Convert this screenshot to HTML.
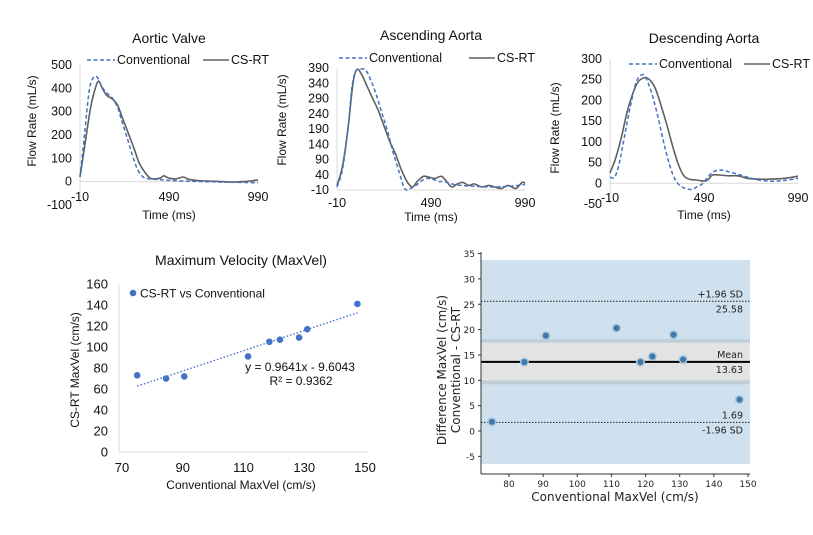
<!DOCTYPE html>
<html><head><meta charset="utf-8"><style>
html,body{margin:0;padding:0;background:#fff}
svg{display:block;font-family:"Liberation Sans",sans-serif}
</style></head><body>
<svg id="s" width="813" height="535" viewBox="0 0 813 535"></svg>
<script>
// ---- Aortic Valve ----
const avConvT=[-10,15,40,60,85,110,140,170,200,225,250,270,290,315,345,380,450,500,600,700,800,900,990];
const avConvV=[20,200,380,440,450,410,380,360,320,260,200,150,100,50,20,12,8,5,2,0,-2,-3,-5];
const avCsT=[-10,20,50,80,97,115,140,170,200,230,260,290,320,350,380,400,440,460,490,530,570,600,650,700,800,850,900,950,990];
const avCsV=[20,170,320,410,430,400,370,355,330,270,210,150,85,45,18,12,15,25,15,12,20,10,5,3,0,-2,0,3,8];
const avYTicks=[500,400,300,200,100,0,-100];
const xTicks=[-10,490,990];
// ---- Ascending Aorta ----
const aaConvT=[-10,20,50,70,90,110,140,170,200,230,260,290,320,345,360,380,410,440,470,500,530,560,600,650,700,800,900,990];
const aaConvV=[0,60,200,330,380,385,385,350,300,240,180,110,50,0,-10,-5,5,20,28,25,18,18,10,5,3,0,2,8];
const aaCsT=[-10,20,50,75,96,120,150,180,210,240,270,300,330,360,390,420,450,480,510,545,570,600,630,660,690,720,760,800,860,900,940,975,990];
const aaCsV=[5,70,200,340,385,370,330,290,250,200,150,110,60,20,0,20,35,32,28,35,20,0,10,15,5,10,0,5,-5,5,-5,15,12];
const aaYTicks=[390,340,290,240,190,140,90,40,-10];
// ---- Descending Aorta ----
const daConvT=[-10,15,40,70,100,130,160,180,210,240,270,300,330,360,390,425,455,485,510,540,580,620,670,720,780,850,920,990];
const daConvV=[15,15,50,120,190,245,262,255,220,170,110,55,15,-5,-12,-15,-8,0,15,28,32,28,22,15,8,5,7,12];
const daCsT=[-10,20,50,80,110,140,175,200,230,260,290,320,350,380,410,450,490,510,535,570,620,670,720,780,850,920,990];
const daCsV=[25,60,110,170,215,245,255,250,230,190,145,95,50,20,10,8,5,8,20,20,18,18,12,10,10,12,17];
const daYTicks=[300,250,200,150,100,50,0,-50];
// ---- Scatter ----
const scConv=[75,84.5,90.5,111.5,118.5,122,128.3,131,147.5];
const scCs=[73,70,72,91,105,107,109,117,141];
const scXTicks=[70,90,110,130,150];
const scYTicks=[0,20,40,60,80,100,120,140,160];
const trendSlope=0.9641, trendIntercept=-9.6043;
// ---- Bland-Altman ----
const baMean=[75,84.5,90.8,111.5,118.5,122,128.2,131,147.5];
const baDiff=[1.8,13.6,18.8,20.3,13.6,14.7,19,14.1,6.2];
const baXTicks=[80,90,100,110,120,130,140,150];
const baYTicks=[-5,0,5,10,15,20,25,30,35];
const baMeanDiff=13.63, baUpper=25.58, baLower=1.69;

const NS="http://www.w3.org/2000/svg";
const svg=document.getElementById('s');
function el(tag,attrs,parent){const e=document.createElementNS(NS,tag);for(const k in attrs)e.setAttribute(k,attrs[k]);(parent||svg).appendChild(e);return e;}
function txt(x,y,s,attrs,parent){const t=el('text',Object.assign({x:x,y:y},attrs),parent);t.textContent=s;return t;}
function smooth(pts){let d='M'+pts[0][0]+','+pts[0][1];for(let i=0;i<pts.length-1;i++){const p0=pts[i-1]||pts[i],p1=pts[i],p2=pts[i+1],p3=pts[i+2]||p2;
const c1=[p1[0]+(p2[0]-p0[0])/6,p1[1]+(p2[1]-p0[1])/6],c2=[p2[0]-(p3[0]-p1[0])/6,p2[1]-(p3[1]-p1[1])/6];
d+=' C'+c1[0].toFixed(1)+','+c1[1].toFixed(1)+' '+c2[0].toFixed(1)+','+c2[1].toFixed(1)+' '+p2[0].toFixed(1)+','+p2[1].toFixed(1);}return d;}

function flowChart(cfg){
  const g=el('g',{});
  
  
  const xs=t=>cfg.x0+(t+10)/1000*(cfg.x1-cfg.x0);
  const ys=v=>cfg.yb+(v-cfg.ymin)/(cfg.ymax-cfg.ymin)*(cfg.yt-cfg.yb);
  const title=txt((cfg.x0+cfg.x1)/2,cfg.titleY,cfg.title,{'font-size':14,'text-anchor':'middle',fill:'#111'},g);
  
  
  const ax=el('line',{x1:cfg.x0,x2:cfg.x0,y1:ys(cfg.ymax),y2:ys(cfg.ymin),stroke:'#d9d9d9','stroke-width':1},g);
  
  
  const hx=el('line',{x1:cfg.x0,x2:cfg.x1,y1:ys(cfg.xAxisAt),y2:ys(cfg.xAxisAt),stroke:'#d9d9d9','stroke-width':1},g);
  
  
  cfg.yTicks.forEach(v=>{const t=txt(cfg.x0-8,ys(v)+4,String(v),{'font-size':12.5,'text-anchor':'end',fill:'#111'},g);
    
    });
  xTicks.forEach(v=>{const t=txt(xs(v),cfg.xTickY,String(v),{'font-size':12.5,'text-anchor':'middle',fill:'#111'},g);
    
    });
  const xt=txt((cfg.x0+cfg.x1)/2,cfg.xTitleY,'Time (ms)',{'font-size':12,'text-anchor':'middle',fill:'#111'},g);
  
  
  const yt=txt(0,0,'Flow Rate (mL/s)',{'font-size':12,'text-anchor':'middle',fill:'#111',transform:'translate('+cfg.yTitleX+','+cfg.yTitleY+') rotate(-90)'},g);
  
  
  const pc=cfg.convT.map((t,i)=>[xs(t),ys(cfg.convV[i])]);
  const pr=cfg.csT.map((t,i)=>[xs(t),ys(cfg.csV[i])]);
  const l2=el('path',{d:smooth(pr),fill:'none',stroke:'#606060','stroke-width':1.6},g);
  
  
  const l1=el('path',{d:smooth(pc),fill:'none',stroke:'#4472c4','stroke-width':1.5,'stroke-dasharray':'4,2.5'},g);
  
  
  const L=cfg.leg;
  const le1=el('line',{x1:L[0],x2:L[0]+28,y1:L[2],y2:L[2],stroke:'#4472c4','stroke-width':1.5,'stroke-dasharray':'4,2.5'},g);
  
  
  const lt1=txt(L[0]+30,L[2]+4,'Conventional',{'font-size':12.5,fill:'#111'},g);
  
  
  const le2=el('line',{x1:L[1],x2:L[1]+26,y1:L[2],y2:L[2],stroke:'#606060','stroke-width':1.6},g);
  
  
  const lt2=txt(L[1]+28,L[2]+4,'CS-RT',{'font-size':12.5,fill:'#111'},g);
  
  
}
flowChart({name:'aortic-valve-chart',title:'Aortic Valve',titleY:43,x0:80,x1:258,yt:65,yb:205,ymax:500,ymin:-100,xAxisAt:0,
  yTicks:avYTicks,xTickY:201,xTitleY:219,yTitleX:36,yTitleY:121,convT:avConvT,convV:avConvV,csT:avCsT,csV:avCsV,leg:[87,203,60]});
flowChart({name:'ascending-aorta-chart',title:'Ascending Aorta',titleY:40,x0:337,x1:525,yt:68,yb:190,ymax:390,ymin:-10,xAxisAt:-10,
  yTicks:aaYTicks,xTickY:207,xTitleY:221,yTitleX:286,yTitleY:120,convT:aaConvT,convV:aaConvV,csT:aaCsT,csV:aaCsV,leg:[339,469,58]});
flowChart({name:'descending-aorta-chart',title:'Descending Aorta',titleY:43,x0:610,x1:798,yt:59,yb:204,ymax:300,ymin:-50,xAxisAt:0,
  yTicks:daYTicks,xTickY:202,xTitleY:219,yTitleX:559,yTitleY:128,convT:daConvT,convV:daConvV,csT:daCsT,csV:daCsV,leg:[629,744,64]});

// ---- Scatter ----
(function(){
  const g=el('g',{});
  
  
  const xs=v=>122+(v-70)/80*243, ys=v=>452-v/160*168;
  const t=txt(241,265,'Maximum Velocity (MaxVel)',{'font-size':14,'text-anchor':'middle',fill:'#111'},g);
  
  
  const a1=el('line',{x1:119,x2:119,y1:284,y2:452,stroke:'#d9d9d9'},g);
  
  
  const a2=el('line',{x1:119,x2:368,y1:452,y2:452,stroke:'#d9d9d9'},g);
  
  
  scYTicks.forEach(v=>{const e=txt(108,ys(v)+4.5,String(v),{'font-size':13,'text-anchor':'end',fill:'#111'},g);
    
    });
  scXTicks.forEach(v=>{const e=txt(xs(v),472,String(v),{'font-size':13,'text-anchor':'middle',fill:'#111'},g);
    
    });
  const xt=txt(241,489,'Conventional MaxVel (cm/s)',{'font-size':12,'text-anchor':'middle',fill:'#111'},g);
  
  
  const yt=txt(0,0,'CS-RT MaxVel (cm/s)',{'font-size':12,'text-anchor':'middle',fill:'#111',transform:'translate(79,370) rotate(-90)'},g);
  
  
  const x0=Math.min(...scConv),x1=Math.max(...scConv);
  const tr=el('line',{x1:xs(x0),x2:xs(x1),y1:ys(trendSlope*x0+trendIntercept),y2:ys(trendSlope*x1+trendIntercept),stroke:'#4472c4','stroke-width':1.4,'stroke-dasharray':'1.5,2'},g);
  
  
  scConv.forEach((v,i)=>{const c=el('circle',{cx:xs(v),cy:ys(scCs[i]),r:3.3,fill:'#4472c4'},g);
    
    });
  const ld=el('circle',{cx:133,cy:293,r:3.3,fill:'#4472c4'},g);
  
  
  const lt=txt(140,297.5,'CS-RT vs Conventional',{'font-size':12,fill:'#111'},g);
  
  
  const eq=txt(300,371,'y = 0.9641x - 9.6043',{'font-size':12,'text-anchor':'middle',fill:'#111'},g);
  
  
  const r2=txt(301,385,'R² = 0.9362',{'font-size':12,'text-anchor':'middle',fill:'#111'},g);
  
  
})();

// ---- Bland-Altman ----
(function(){
  const g=el('g',{'font-family':'"DejaVu Sans",sans-serif'});
  
  
  const xs=v=>509+(v-80)/70*239, ys=v=>431-v*5.07;
  const bg=el('rect',{x:481,y:ys(33.7),width:269,height:ys(-6.5)-ys(33.7),fill:'#cfe1ee'},g);
  
  
  const mb=el('rect',{x:481,y:ys(18.1),width:269,height:ys(9.2)-ys(18.1),fill:'#bfcfd9'},g);
  
  
  const mb2=el('rect',{x:481,y:ys(17.4),width:269,height:ys(10)-ys(17.4),fill:'#e3e3e3'},g);
  
  
  [[baUpper,'upper-loa-line'],[baLower,'lower-loa-line']].forEach(p=>{const l=el('line',{x1:481,x2:750,y1:ys(p[0]),y2:ys(p[0]),stroke:'#333','stroke-width':1.2,'stroke-dasharray':'1.5,1.5'},g);
    
    });
  const ml=el('line',{x1:481,x2:750,y1:ys(baMeanDiff),y2:ys(baMeanDiff),stroke:'#000','stroke-width':2},g);
  
  
  baMean.forEach((v,i)=>{const c=el('circle',{cx:xs(v),cy:ys(baDiff[i]),r:3.8,fill:'#3f78aa',stroke:'#a9c7de','stroke-width':1.5},g);
    
    });
  const lab=(y,s,dy)=>{const t=txt(743,ys(y)+dy,s,{'font-size':9.5,'text-anchor':'end',fill:'#222'},g);
    
    };
  lab(baUpper,'+1.96 SD',-4);lab(baUpper,baUpper.toFixed(2),11);
  lab(baMeanDiff,'Mean',-4);lab(baMeanDiff,baMeanDiff.toFixed(2),11);
  lab(baLower,baLower.toFixed(2),-4);lab(baLower,'-1.96 SD',11);
  const sp1=el('line',{x1:481,x2:481,y1:252,y2:474,stroke:'#333','stroke-width':1},g);
  
  
  const sp2=el('line',{x1:481,x2:750,y1:474,y2:474,stroke:'#333','stroke-width':1},g);
  
  
  baYTicks.forEach(v=>{el('line',{x1:478,x2:481,y1:ys(v),y2:ys(v),stroke:'#333'},g);
    const t=txt(475,ys(v)+3.5,String(v),{'font-size':9,'text-anchor':'end',fill:'#222'},g);
    
    });
  baXTicks.forEach(v=>{el('line',{x1:xs(v),x2:xs(v),y1:474,y2:477,stroke:'#333'},g);
    const t=txt(xs(v),487,String(v),{'font-size':9,'text-anchor':'middle',fill:'#222'},g);
    
    });
  const xt=txt(615,501,'Conventional MaxVel (cm/s)',{'font-size':12,'text-anchor':'middle',fill:'#222'},g);
  
  
  const y1=txt(0,0,'Difference MaxVel (cm/s)',{'font-size':12,'text-anchor':'middle',fill:'#222',transform:'translate(446,370) rotate(-90)'},g);
  
  
  const y2=txt(0,0,'Conventional - CS-RT',{'font-size':12,'text-anchor':'middle',fill:'#222',transform:'translate(460,370) rotate(-90)'},g);
  
  
})();
</script>
</body></html>
